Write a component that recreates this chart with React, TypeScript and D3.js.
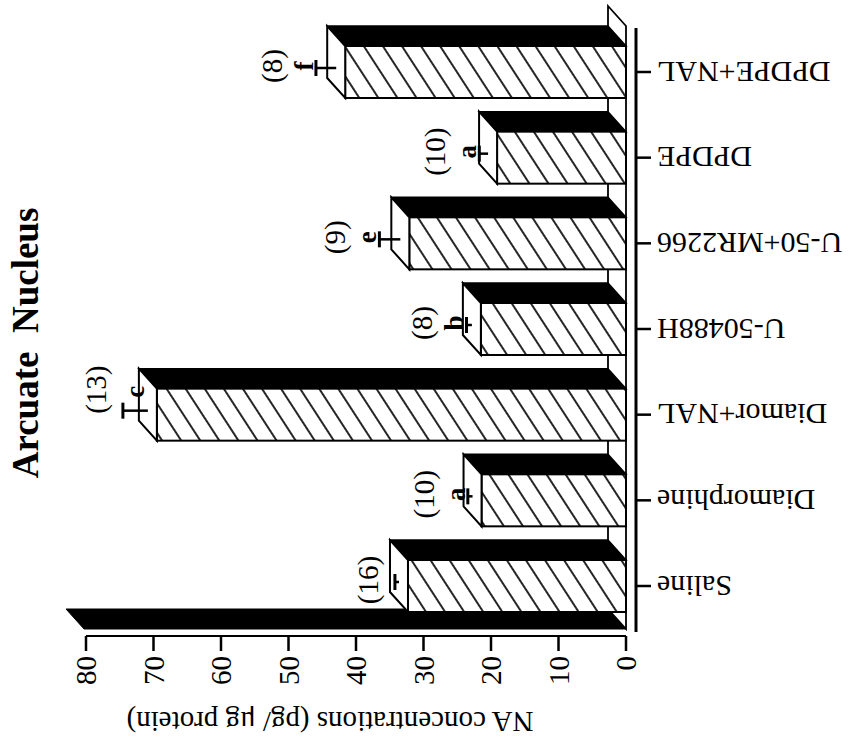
import React from "react";
import * as d3 from "d3";

const categories = ["Saline", "Diamorphine", "Diamor+NAL", "U-50488H", "U-50+MR2266", "DPDPE", "DPDPE+NAL"];
const values = [32.3, 21.4, 69.5, 21.5, 32.1, 19.1, 41.6];
const errors = [0.6, 0.7, 3.7, 0.8, 3.1, 1.3, 3.0];
const nLabels = ["(16)", "(10)", "(13)", "(8)", "(9)", "(10)", "(8)"];
const letters = ["", "a", "c", "b", "e", "a", "f"];
const valueTicks = [0, 10, 20, 30, 40, 50, 60, 70, 80];
const title = "Arcuate\u00a0 Nucleus";
const axisTitle = "NA concentrations (pg/ \u03bcg protein)";

const W = 849;
const H = 746;
const FONT = "'Liberation Serif', 'Times New Roman', serif";

export default function App() {
  const x = d3.scaleLinear().domain([0, 80]).range([626, 86]);
  const y = d3.scalePoint<string>().domain(categories).range([586, 72]);
  const barT = 52; // bar thickness
  const dx = -18;
  const dy = -20; // depth offset
  const wallFront = 629;
  const axisY = 636;
  const catAxisX = 636;

  const poly = (pts: [number, number][]) => pts.map((p) => p.join(",")).join(" ");

  return (
    <svg
      width={W}
      height={H}
      style={{ position: "absolute", left: 0, top: 0, background: "#fff" }}
      fontFamily={FONT}
    >
      <defs>
        <pattern
          id="hatch"
          patternUnits="userSpaceOnUse"
          width={16}
          height={16}
          patternTransform="rotate(-33)"
        >
          <rect width={16} height={16} fill="#fff" />
          <line x1={8} y1={0} x2={8} y2={16} stroke="#000" strokeWidth={1.7} />
        </pattern>
      </defs>

      {/* title */}
      <text
        transform={`translate(38,343) rotate(-90)`}
        textAnchor="middle"
        fontSize={37}
        fontWeight="bold"
        fill="#000"
      >
        {title}
      </text>

      {/* side wall (black) */}
      <polygon
        points={poly([
          [x(0), wallFront],
          [x(80) - 2, wallFront],
          [x(80) - 2 + dx, wallFront + dy],
          [x(0) + dx, wallFront + dy],
        ])}
        fill="#000"
        stroke="#000"
        strokeWidth={1}
      />

      {/* floor */}
      <polygon
        points={poly([
          [x(0), wallFront],
          [x(0), 26],
          [x(0) + dx, 26 + dy],
          [x(0) + dx, wallFront + dy],
        ])}
        fill="#fff"
        stroke="#000"
        strokeWidth={1.8}
      />

      {/* bars */}
      {categories.map((c, i) => {
        const cy = y(c)!;
        const top = cy - barT / 2;
        const bot = cy + barT / 2;
        const fx = x(values[i]);
        const x0 = x(0);
        return (
          <g key={c}>
            <polygon
              points={poly([
                [fx, top],
                [x0, top],
                [x0 + dx, top + dy],
                [fx + dx, top + dy],
              ])}
              fill="#000"
              stroke="#000"
              strokeWidth={1.5}
            />
            <rect
              x={fx}
              y={top}
              width={x0 - fx}
              height={barT}
              fill="url(#hatch)"
              stroke="#000"
              strokeWidth={2}
            />
            <polygon
              points={poly([
                [fx, top],
                [fx, bot],
                [fx + dx, bot + dy],
                [fx + dx, top + dy],
              ])}
              fill="#fff"
              stroke="#000"
              strokeWidth={2}
            />
          </g>
        );
      })}

      {/* error bars and labels */}
      {categories.map((c, i) => {
        const cy = y(c)!;
        const endCx = x(values[i]) + dx / 2;
        const ey = cy - 4;
        const tip = x(values[i] + errors[i]) + dx / 2;
        const stacked = tip - 44 > x(80);
        const hasLetter = letters[i] !== "";
        const letterX = stacked ? tip - 12 : tip + 12;
        const letterY = stacked ? cy - 6 : cy - 23;
        const nX = hasLetter && stacked ? tip - 44 : tip - 27;
        const nY = stacked ? cy - 6 : cy - 25;
        return (
          <g key={c + "-err"}>
            <line x1={endCx} y1={ey} x2={tip} y2={ey} stroke="#000" strokeWidth={2.5} />
            <line x1={tip} y1={ey - 8} x2={tip} y2={ey + 8} stroke="#000" strokeWidth={3} />
            {hasLetter && (
              <text
                transform={`translate(${letterX},${letterY}) rotate(-90)`}
                textAnchor="middle"
                dominantBaseline="central"
                fontSize={27}
                fontWeight="bold"
              >
                {letters[i]}
              </text>
            )}
            <text
              transform={`translate(${nX},${nY}) rotate(-90)`}
              textAnchor="middle"
              dominantBaseline="central"
              fontSize={29}
            >
              {nLabels[i]}
            </text>
          </g>
        );
      })}

      {/* value axis */}
      <line x1={x(80)} y1={axisY} x2={x(0)} y2={axisY} stroke="#000" strokeWidth={2.2} />
      {valueTicks.map((t) => (
        <g key={t}>
          <line x1={x(t)} y1={axisY} x2={x(t)} y2={axisY + 15} stroke="#000" strokeWidth={2.5} />
          <text
            transform={`translate(${x(t)},${axisY + 20}) rotate(-90)`}
            textAnchor="end"
            dominantBaseline="central"
            fontSize={29}
          >
            {t}
          </text>
        </g>
      ))}
      <text
        transform={`translate(330,722) rotate(180)`}
        textAnchor="middle"
        dominantBaseline="central"
        fontSize={29}
      >
        {axisTitle}
      </text>

      {/* category axis */}
      <line x1={catAxisX} y1={28} x2={catAxisX} y2={632} stroke="#000" strokeWidth={3} />
      {categories.map((c) => (
        <g key={c + "-tick"}>
          <line x1={catAxisX} y1={y(c)!} x2={catAxisX + 15} y2={y(c)!} stroke="#000" strokeWidth={2.5} />
          <text
            transform={`translate(${catAxisX + 21},${y(c)!}) rotate(180)`}
            textAnchor="end"
            dominantBaseline="central"
            fontSize={30}
          >
            {c}
          </text>
        </g>
      ))}
    </svg>
  );
}
